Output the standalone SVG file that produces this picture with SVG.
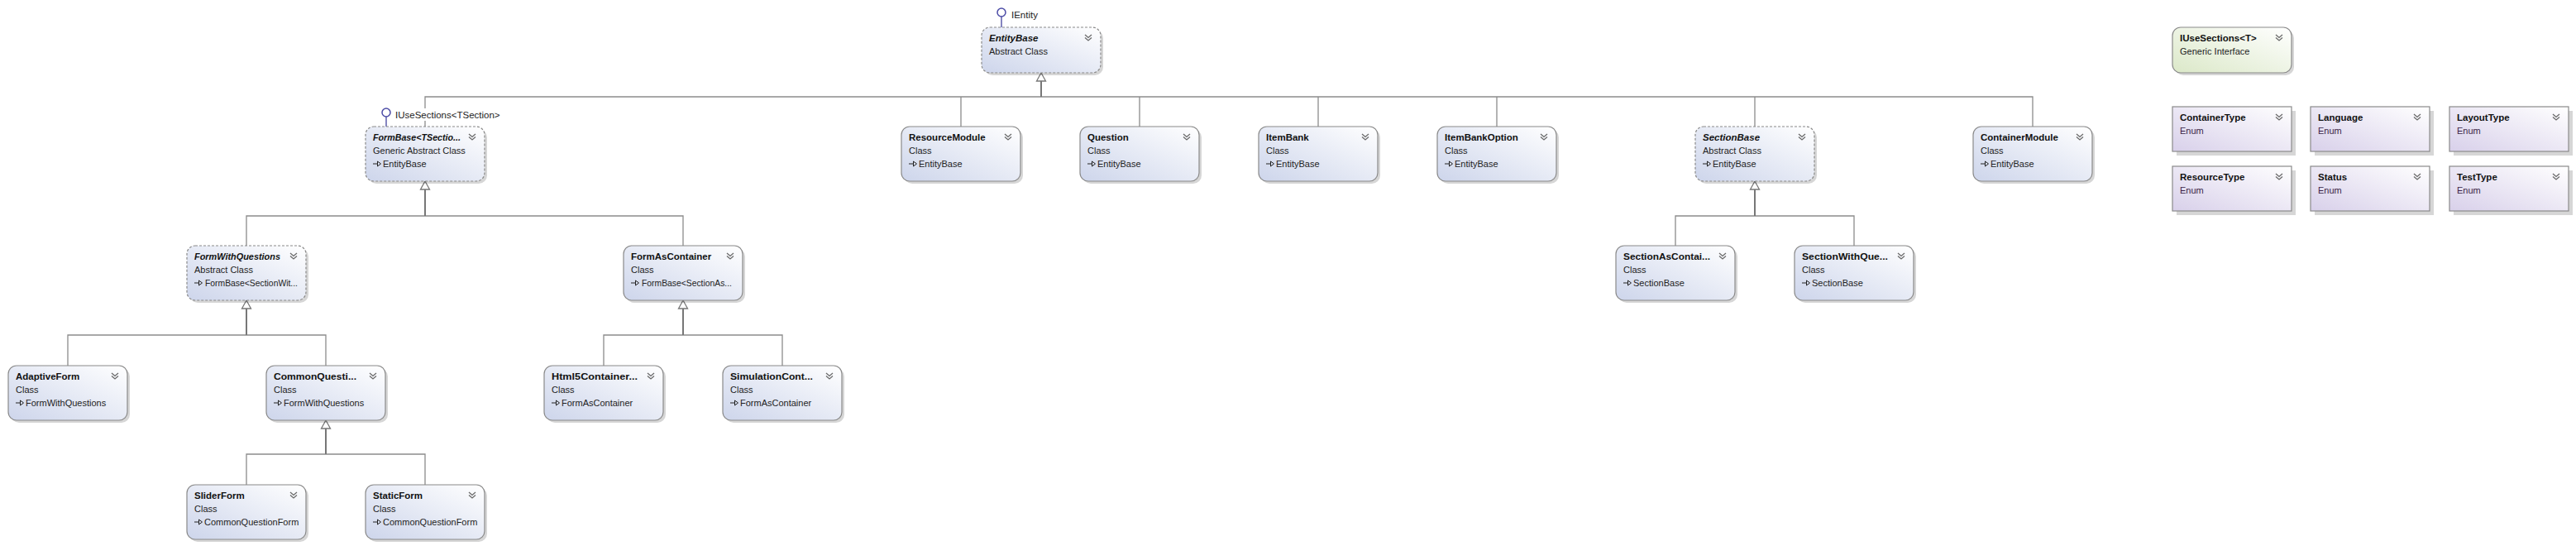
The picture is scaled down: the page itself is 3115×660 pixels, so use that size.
<svg xmlns="http://www.w3.org/2000/svg" xmlns:xlink="http://www.w3.org/1999/xlink" width="3115" height="660" viewBox="0 0 3115 660">
<style>
.bg{fill:#ffffff}
.sh{fill:#000;opacity:.16}
.cls{fill:url(#gc);stroke:#8a8a8a;stroke-width:1.2}
.abs{fill:url(#gc);stroke:#8a8a8a;stroke-width:1.2;stroke-dasharray:3 2}
.enm{fill:url(#ge);stroke:#8a8a8a;stroke-width:1.2}
.itf{fill:url(#gi);stroke:#8a8a8a;stroke-width:1.2}
.t{font-family:"Liberation Sans",Arial,sans-serif;font-size:11.5px;font-weight:bold;fill:#111}
.ti{font-style:italic}
.s{font-family:"Liberation Sans",Arial,sans-serif;font-size:11px;fill:#222}
.se{font-family:"Liberation Sans",Arial,sans-serif;font-size:11px;fill:#3a1f45}
.lb{font-family:"Liberation Sans",Arial,sans-serif;font-size:11.5px;fill:#222}
.stem{stroke:#777;stroke-width:2;fill:none}
.br{stroke:#8c8c8c;stroke-width:1.3;fill:none}
.tri{fill:#fff;stroke:#777;stroke-width:1.3}
.lol{fill:#fff;stroke:#4b4ba6;stroke-width:1.5}
.loll{stroke:#5c5cab;stroke-width:1.5}
</style>
<defs>
<linearGradient id="gc" x1="0" y1="1" x2="1" y2="0"><stop offset="0" stop-color="#cdd5eb"/><stop offset="1" stop-color="#ffffff"/></linearGradient>
<linearGradient id="ge" x1="0" y1="1" x2="1" y2="0"><stop offset="0" stop-color="#d8d0ea"/><stop offset="1" stop-color="#ffffff"/></linearGradient>
<linearGradient id="gi" x1="0" y1="1" x2="1" y2="0"><stop offset="0" stop-color="#dbe8c8"/><stop offset="1" stop-color="#ffffff"/></linearGradient>
<path id="chev" d="M0,1 L4,4.5 L8,1 M0,4.5 L4,8 L8,4.5" fill="none" stroke="#6a6a6a" stroke-width="1.3"/>
<g id="inh"><path d="M0,0H5.5" stroke="#222" stroke-width="1"/><path d="M5.5,-3L9.5,0L5.5,3Z" fill="none" stroke="#222" stroke-width="1"/></g>
</defs>
<rect class="bg" width="3115" height="660"/>

<g id="connectors">
<path class="br" d="M514,153V117H2458V153M1162,117V153M1378,117V153M1594,117V153M1810,117V153M2122,117V153"/>
<path class="br" d="M298,297V261H826V297"/>
<path class="br" d="M82,442V405H394V442"/>
<path class="br" d="M730,442V405H946V442"/>
<path class="br" d="M298,586V549H514V586"/>
<path class="br" d="M2026,297V261H2242V297"/>
<path class="stem" d="M1259,98V117M514,229V261M298,373V405M826,373V405M394,518V549M2122,229V261"/>
<polygon class="tri" points="1259,88 1253.5,98 1264.5,98"/>
<polygon class="tri" points="514,219 508.5,229 519.5,229"/>
<polygon class="tri" points="298,363 292.5,373 303.5,373"/>
<polygon class="tri" points="826,363 820.5,373 831.5,373"/>
<polygon class="tri" points="394,508 388.5,518 399.5,518"/>
<polygon class="tri" points="2122,219 2116.5,229 2127.5,229"/>
</g>

<g id="EntityBase" transform="translate(1187,33)">
<line class="loll" x1="24" y1="-13" x2="24" y2="0"/>
<circle class="lol" cx="24" cy="-18" r="5"/>
<text class="lb" x="36" y="-11">IEntity</text>
<rect class="sh" x="3" y="3" width="144" height="55" rx="10"/>
<rect class="abs" width="144" height="55" rx="10"/>
<text class="t ti" x="9" y="17">EntityBase</text>
<text class="s" x="9" y="33">Abstract Class</text>
<use href="#chev" x="125" y="8"/>
</g>

<g id="IUseSectionsT" transform="translate(2627,33)">
<rect class="sh" x="3" y="3" width="144" height="55" rx="10"/>
<rect class="itf" width="144" height="55" rx="10"/>
<text class="t" x="9" y="17">IUseSections&lt;T&gt;</text>
<text class="s" x="9" y="33">Generic Interface</text>
<use href="#chev" x="125" y="8"/>
</g>

<g id="FormBase" transform="translate(442,153)">
<rect x="35" y="-22" width="130" height="15" fill="#fff"/>
<line class="loll" x1="25" y1="-12" x2="25" y2="0"/>
<circle class="lol" cx="25" cy="-17" r="5"/>
<text class="lb" x="36" y="-10">IUseSections&lt;TSection&gt;</text>
<rect class="sh" x="3" y="3" width="144" height="66" rx="10"/>
<rect class="abs" width="144" height="66" rx="10"/>
<text class="t ti" x="9" y="17" textLength="106" lengthAdjust="spacingAndGlyphs">FormBase&lt;TSectio...</text>
<text class="s" x="9" y="33">Generic Abstract Class</text>
<use href="#inh" x="9" y="45"/>
<text class="s" x="21" y="49">EntityBase</text>
<use href="#chev" x="125" y="8"/>
</g>

<g id="ResourceModule" transform="translate(1090,153)">
<rect class="sh" x="3" y="3" width="144" height="66" rx="10"/>
<rect class="cls" width="144" height="66" rx="10"/>
<text class="t" x="9" y="17">ResourceModule</text>
<text class="s" x="9" y="33">Class</text>
<use href="#inh" x="9" y="45"/>
<text class="s" x="21" y="49">EntityBase</text>
<use href="#chev" x="125" y="8"/>
</g>

<g id="Question" transform="translate(1306,153)">
<rect class="sh" x="3" y="3" width="144" height="66" rx="10"/>
<rect class="cls" width="144" height="66" rx="10"/>
<text class="t" x="9" y="17">Question</text>
<text class="s" x="9" y="33">Class</text>
<use href="#inh" x="9" y="45"/>
<text class="s" x="21" y="49">EntityBase</text>
<use href="#chev" x="125" y="8"/>
</g>

<g id="ItemBank" transform="translate(1522,153)">
<rect class="sh" x="3" y="3" width="144" height="66" rx="10"/>
<rect class="cls" width="144" height="66" rx="10"/>
<text class="t" x="9" y="17">ItemBank</text>
<text class="s" x="9" y="33">Class</text>
<use href="#inh" x="9" y="45"/>
<text class="s" x="21" y="49">EntityBase</text>
<use href="#chev" x="125" y="8"/>
</g>

<g id="ItemBankOption" transform="translate(1738,153)">
<rect class="sh" x="3" y="3" width="144" height="66" rx="10"/>
<rect class="cls" width="144" height="66" rx="10"/>
<text class="t" x="9" y="17">ItemBankOption</text>
<text class="s" x="9" y="33">Class</text>
<use href="#inh" x="9" y="45"/>
<text class="s" x="21" y="49">EntityBase</text>
<use href="#chev" x="125" y="8"/>
</g>

<g id="SectionBase" transform="translate(2050,153)">
<rect class="sh" x="3" y="3" width="144" height="66" rx="10"/>
<rect class="abs" width="144" height="66" rx="10"/>
<text class="t ti" x="9" y="17">SectionBase</text>
<text class="s" x="9" y="33">Abstract Class</text>
<use href="#inh" x="9" y="45"/>
<text class="s" x="21" y="49">EntityBase</text>
<use href="#chev" x="125" y="8"/>
</g>

<g id="ContainerModule" transform="translate(2386,153)">
<rect class="sh" x="3" y="3" width="144" height="66" rx="10"/>
<rect class="cls" width="144" height="66" rx="10"/>
<text class="t" x="9" y="17">ContainerModule</text>
<text class="s" x="9" y="33">Class</text>
<use href="#inh" x="9" y="45"/>
<text class="s" x="21" y="49">EntityBase</text>
<use href="#chev" x="125" y="8"/>
</g>

<g id="FormWithQuestions" transform="translate(226,297)">
<rect class="sh" x="3" y="3" width="144" height="66" rx="10"/>
<rect class="abs" width="144" height="66" rx="10"/>
<text class="t ti" x="9" y="17" textLength="104" lengthAdjust="spacingAndGlyphs">FormWithQuestions</text>
<text class="s" x="9" y="33">Abstract Class</text>
<use href="#inh" x="9" y="45"/>
<text class="s" x="22" y="49" textLength="112" lengthAdjust="spacingAndGlyphs">FormBase&lt;SectionWit...</text>
<use href="#chev" x="125" y="8"/>
</g>

<g id="FormAsContainer" transform="translate(754,297)">
<rect class="sh" x="3" y="3" width="144" height="66" rx="10"/>
<rect class="cls" width="144" height="66" rx="10"/>
<text class="t" x="9" y="17">FormAsContainer</text>
<text class="s" x="9" y="33">Class</text>
<use href="#inh" x="9" y="45"/>
<text class="s" x="22" y="49" textLength="109" lengthAdjust="spacingAndGlyphs">FormBase&lt;SectionAs...</text>
<use href="#chev" x="125" y="8"/>
</g>

<g id="SectionAsContainer" transform="translate(1954,297)">
<rect class="sh" x="3" y="3" width="144" height="66" rx="10"/>
<rect class="cls" width="144" height="66" rx="10"/>
<text class="t" x="9" y="17" textLength="105" lengthAdjust="spacingAndGlyphs">SectionAsContai...</text>
<text class="s" x="9" y="33">Class</text>
<use href="#inh" x="9" y="45"/>
<text class="s" x="21" y="49">SectionBase</text>
<use href="#chev" x="125" y="8"/>
</g>

<g id="SectionWithQuestions" transform="translate(2170,297)">
<rect class="sh" x="3" y="3" width="144" height="66" rx="10"/>
<rect class="cls" width="144" height="66" rx="10"/>
<text class="t" x="9" y="17" textLength="104" lengthAdjust="spacingAndGlyphs">SectionWithQue...</text>
<text class="s" x="9" y="33">Class</text>
<use href="#inh" x="9" y="45"/>
<text class="s" x="21" y="49">SectionBase</text>
<use href="#chev" x="125" y="8"/>
</g>

<g id="AdaptiveForm" transform="translate(10,442)">
<rect class="sh" x="3" y="3" width="144" height="66" rx="10"/>
<rect class="cls" width="144" height="66" rx="10"/>
<text class="t" x="9" y="17">AdaptiveForm</text>
<text class="s" x="9" y="33">Class</text>
<use href="#inh" x="9" y="45"/>
<text class="s" x="21" y="49">FormWithQuestions</text>
<use href="#chev" x="125" y="8"/>
</g>

<g id="CommonQuestionForm" transform="translate(322,442)">
<rect class="sh" x="3" y="3" width="144" height="66" rx="10"/>
<rect class="cls" width="144" height="66" rx="10"/>
<text class="t" x="9" y="17" textLength="100" lengthAdjust="spacingAndGlyphs">CommonQuesti...</text>
<text class="s" x="9" y="33">Class</text>
<use href="#inh" x="9" y="45"/>
<text class="s" x="21" y="49">FormWithQuestions</text>
<use href="#chev" x="125" y="8"/>
</g>

<g id="Html5Container" transform="translate(658,442)">
<rect class="sh" x="3" y="3" width="144" height="66" rx="10"/>
<rect class="cls" width="144" height="66" rx="10"/>
<text class="t" x="9" y="17" textLength="104" lengthAdjust="spacingAndGlyphs">Html5Container...</text>
<text class="s" x="9" y="33">Class</text>
<use href="#inh" x="9" y="45"/>
<text class="s" x="21" y="49">FormAsContainer</text>
<use href="#chev" x="125" y="8"/>
</g>

<g id="SimulationContainer" transform="translate(874,442)">
<rect class="sh" x="3" y="3" width="144" height="66" rx="10"/>
<rect class="cls" width="144" height="66" rx="10"/>
<text class="t" x="9" y="17" textLength="100" lengthAdjust="spacingAndGlyphs">SimulationCont...</text>
<text class="s" x="9" y="33">Class</text>
<use href="#inh" x="9" y="45"/>
<text class="s" x="21" y="49">FormAsContainer</text>
<use href="#chev" x="125" y="8"/>
</g>

<g id="SliderForm" transform="translate(226,586)">
<rect class="sh" x="3" y="3" width="144" height="66" rx="10"/>
<rect class="cls" width="144" height="66" rx="10"/>
<text class="t" x="9" y="17">SliderForm</text>
<text class="s" x="9" y="33">Class</text>
<use href="#inh" x="9" y="45"/>
<text class="s" x="21" y="49">CommonQuestionForm</text>
<use href="#chev" x="125" y="8"/>
</g>

<g id="StaticForm" transform="translate(442,586)">
<rect class="sh" x="3" y="3" width="144" height="66" rx="10"/>
<rect class="cls" width="144" height="66" rx="10"/>
<text class="t" x="9" y="17">StaticForm</text>
<text class="s" x="9" y="33">Class</text>
<use href="#inh" x="9" y="45"/>
<text class="s" x="21" y="49">CommonQuestionForm</text>
<use href="#chev" x="125" y="8"/>
</g>

<g id="ContainerType" transform="translate(2627,129)">
<rect class="sh" x="5" y="5" width="144" height="54"/>
<rect class="enm" width="144" height="54"/>
<text class="t" x="9" y="17">ContainerType</text>
<text class="se" x="9" y="33">Enum</text>
<use href="#chev" x="125" y="8"/>
</g>

<g id="Language" transform="translate(2794,129)">
<rect class="sh" x="5" y="5" width="144" height="54"/>
<rect class="enm" width="144" height="54"/>
<text class="t" x="9" y="17">Language</text>
<text class="se" x="9" y="33">Enum</text>
<use href="#chev" x="125" y="8"/>
</g>

<g id="LayoutType" transform="translate(2962,129)">
<rect class="sh" x="5" y="5" width="144" height="54"/>
<rect class="enm" width="144" height="54"/>
<text class="t" x="9" y="17">LayoutType</text>
<text class="se" x="9" y="33">Enum</text>
<use href="#chev" x="125" y="8"/>
</g>

<g id="ResourceType" transform="translate(2627,201)">
<rect class="sh" x="5" y="5" width="144" height="54"/>
<rect class="enm" width="144" height="54"/>
<text class="t" x="9" y="17">ResourceType</text>
<text class="se" x="9" y="33">Enum</text>
<use href="#chev" x="125" y="8"/>
</g>

<g id="Status" transform="translate(2794,201)">
<rect class="sh" x="5" y="5" width="144" height="54"/>
<rect class="enm" width="144" height="54"/>
<text class="t" x="9" y="17">Status</text>
<text class="se" x="9" y="33">Enum</text>
<use href="#chev" x="125" y="8"/>
</g>

<g id="TestType" transform="translate(2962,201)">
<rect class="sh" x="5" y="5" width="144" height="54"/>
<rect class="enm" width="144" height="54"/>
<text class="t" x="9" y="17">TestType</text>
<text class="se" x="9" y="33">Enum</text>
<use href="#chev" x="125" y="8"/>
</g>
</svg>
